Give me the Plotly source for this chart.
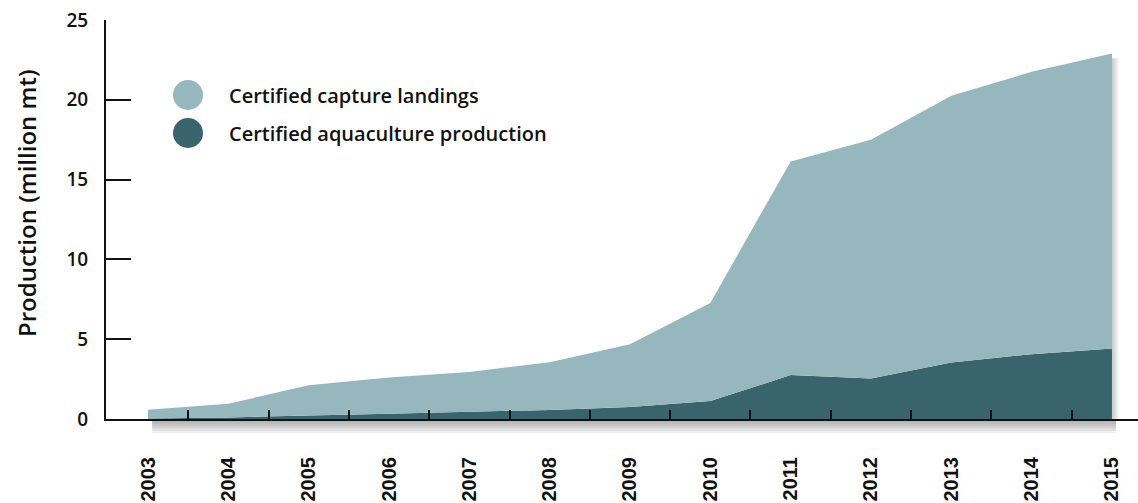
import plotly.graph_objects as go

# ---- data ----
years = [2003, 2004, 2005, 2006, 2007, 2008, 2009, 2010, 2011, 2012, 2013, 2014, 2015]
aquaculture = [0.03, 0.10, 0.22, 0.33, 0.45, 0.57, 0.75, 1.12, 2.75, 2.54, 3.54, 4.06, 4.42]
total_top = [0.58, 0.95, 2.12, 2.60, 2.95, 3.56, 4.69, 7.27, 16.14, 17.50, 20.25, 21.75, 22.90]
capture = [round(t - a, 2) for t, a in zip(total_top, aquaculture)]
year_labels = [str(y) for y in years]
y_ticks = [0, 5, 10, 15, 20, 25]
series_names = ["Certified capture landings", "Certified aquaculture production"]

LIGHT = "#95B7BD"
DARK = "#3A646B"
INK = "#111111"

fig = go.Figure()
fig.add_trace(go.Scatter(x=years, y=aquaculture, stackgroup="one", mode="none",
                         fillcolor=DARK, name=series_names[1], showlegend=False,
                         hoverinfo="skip"))
fig.add_trace(go.Scatter(x=years, y=capture, stackgroup="one", mode="none",
                         fillcolor=LIGHT, name=series_names[0], showlegend=False,
                         hoverinfo="skip"))
# invisible trace to activate the second x axis (tick marks between years)
mids = [(years[i] + years[i + 1]) / 2 for i in range(len(years) - 1)]
fig.add_trace(go.Scatter(x=mids, y=[None] * len(mids), xaxis="x2", mode="none",
                         showlegend=False, hoverinfo="skip"))

x_range = [years[0] - 0.523, years[-1] + 0.324]

# drop shadow under the area
shapes = []
for k in range(1, 7):
    shapes.append(dict(type="rect", xref="x", yref="paper",
                       x0=years[0] + 0.05, x1=years[-1] + 0.05,
                       y0=0, y1=-0.006 * k, line_width=0,
                       fillcolor="rgba(0,0,0,0.06)", layer="below"))
for k in range(1, 5):
    shapes.append(dict(type="rect", xref="x", yref="y",
                       x0=years[-1], x1=years[-1] + 0.02 * k,
                       y0=0, y1=total_top[-1] - 0.3, line_width=0,
                       fillcolor="rgba(0,0,0,0.05)", layer="below"))

# legend circles
leg_x = 188
leg_y = [95, 133]
plot_l, plot_t, plot_w, plot_h = 106, 20, 1032, 399
colors = [LIGHT, DARK]
annotations = []
for i in range(2):
    px = (leg_x - plot_l) / plot_w
    py = (plot_t + plot_h - leg_y[i]) / plot_h
    shapes.append(dict(type="circle", xref="paper", yref="paper",
                       xsizemode="pixel", ysizemode="pixel",
                       xanchor=px, yanchor=py, x0=-15, x1=15, y0=-15, y1=15,
                       fillcolor=colors[i], line_width=0))
    annotations.append(dict(xref="paper", yref="paper",
                            x=(227 - plot_l) / plot_w, y=py,
                            xanchor="left", yanchor="middle", showarrow=False,
                            text=series_names[i],
                            font=dict(family="Open Sans", size=20, color=INK, weight=600)))

annotations.append(dict(xref="paper", yref="paper",
                        x=(26 - plot_l) / plot_w, y=(plot_t + plot_h - 203) / plot_h,
                        xanchor="center", yanchor="middle", showarrow=False,
                        textangle=-90, text="Production (million mt)",
                        font=dict(family="Open Sans", size=24, color=INK, weight=600)))

fig.update_layout(
    width=1138, height=503,
    margin=dict(l=plot_l, r=0, t=plot_t, b=503 - plot_t - plot_h, autoexpand=False),
    paper_bgcolor="white", plot_bgcolor="white",
    showlegend=False,
    shapes=shapes, annotations=annotations,
    xaxis=dict(range=x_range, tickmode="array", tickvals=years, ticktext=year_labels,
               tickangle=-90, ticks="", showgrid=False, zeroline=False,
               showline=True, linecolor=INK, linewidth=2, automargin=False,
               ticklabelstandoff=28,
               tickfont=dict(family="Liberation Sans", size=20, color=INK, weight=700)),
    xaxis2=dict(range=x_range, overlaying="x", side="bottom", tickmode="array",
                tickvals=mids, showticklabels=False, ticks="inside", ticklen=9,
                tickwidth=2, tickcolor=INK, showgrid=False, zeroline=False,
                showline=False, anchor="y", automargin=False),
    yaxis=dict(range=[0, 25], tickmode="array", tickvals=y_ticks,
               ticks="inside", ticklen=25, tickwidth=2, tickcolor=INK,
               showgrid=False, zeroline=False, showline=True, linecolor=INK,
               linewidth=2, ticklabelstandoff=12, automargin=False,
               tickfont=dict(family="Open Sans", size=19, color=INK, weight=600)),
)

fig.write_html("out.html", config={"displayModeBar": False},
               post_script="document.body.style.margin='0';document.body.style.padding='0';")
